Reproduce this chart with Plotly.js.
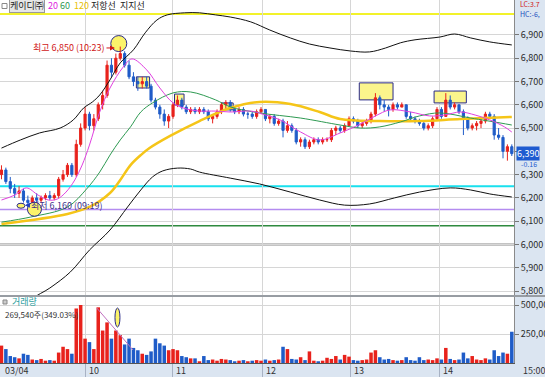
<!DOCTYPE html>
<html><head><meta charset="utf-8">
<script src="https://cdn.plot.ly/plotly-3.0.1.min.js"></script>
<style>html,body{margin:0;padding:0;background:#fff;}#chart{width:545px;height:377px;}</style>
</head><body><div id="chart"></div>
<script>
// ---------- DATA (3-minute bars, 03/04) ----------
const open = [6300,6320,6270,6240,6220,6230,6190,6180,6200,6190,
 6200,6210,6200,6210,6280,6300,6340,6300,6430,6500,
 6560,6510,6540,6600,6640,6770,6740,6800,6820,6770,
 6720,6700,6690,6700,6680,6620,6590,6560,6530,6550,
 6600,6620,6590,6570,6580,6570,6580,6570,6540,6550,
 6570,6600,6610,6580,6570,6580,6560,6560,6550,6570,
 6580,6540,6550,6520,6530,6490,6510,6490,6440,6450,
 6420,6440,6450,6440,6450,6450,6490,6500,6490,6510,
 6540,6530,6510,6520,6530,6560,6630,6600,6590,6580,
 6600,6590,6600,6550,6540,6530,6520,6500,6510,6540,
 6580,6550,6620,6590,6600,6570,6540,6500,6510,6520,
 6530,6560,6550,6470,6460,6400,6420];
const high = [6340,6330,6290,6260,6250,6240,6210,6210,6220,6210,
 6220,6230,6220,6290,6320,6350,6350,6450,6520,6590,
 6570,6560,6610,6660,6790,6800,6820,6850,6830,6790,
 6740,6720,6720,6720,6690,6630,6600,6580,6560,6610,
 6640,6630,6600,6590,6590,6590,6590,6580,6560,6580,
 6610,6620,6620,6590,6590,6590,6570,6570,6580,6590,
 6580,6560,6560,6540,6540,6530,6520,6500,6460,6460,
 6450,6460,6460,6460,6460,6500,6510,6510,6520,6550,
 6550,6540,6530,6540,6570,6650,6640,6620,6600,6610,
 6610,6610,6600,6570,6550,6540,6530,6520,6550,6590,
 6590,6650,6640,6610,6600,6580,6550,6520,6530,6540,
 6570,6570,6560,6500,6470,6430,6430];
const low = [6280,6260,6220,6200,6200,6180,6160,6170,6180,6180,
 6190,6190,6190,6200,6270,6290,6290,6290,6420,6490,
 6490,6490,6530,6580,6630,6720,6730,6790,6760,6710,
 6680,6660,6670,6670,6610,6580,6540,6510,6500,6540,
 6590,6580,6560,6560,6560,6560,6560,6530,6520,6540,
 6560,6580,6570,6560,6560,6550,6540,6540,6540,6560,
 6530,6520,6510,6510,6460,6480,6480,6430,6420,6410,
 6410,6430,6430,6430,6440,6440,6470,6480,6480,6510,
 6520,6500,6500,6510,6520,6550,6580,6570,6550,6570,
 6580,6590,6540,6530,6520,6510,6490,6490,6500,6530,
 6540,6550,6580,6580,6560,6470,6490,6490,6490,6500,
 6520,6540,6450,6450,6370,6360,6380];
const close = [6320,6270,6240,6220,6230,6190,6180,6200,6190,6200,
 6210,6200,6210,6280,6300,6340,6300,6430,6500,6560,
 6510,6540,6600,6640,6770,6740,6800,6820,6770,6720,
 6700,6690,6700,6680,6620,6590,6560,6530,6550,6600,
 6620,6590,6570,6580,6570,6580,6570,6540,6550,6570,
 6600,6610,6580,6570,6580,6560,6560,6550,6570,6580,
 6540,6550,6520,6530,6490,6510,6490,6440,6450,6420,
 6440,6450,6440,6450,6450,6490,6500,6490,6510,6540,
 6530,6510,6520,6530,6560,6630,6600,6590,6580,6600,
 6590,6600,6550,6540,6530,6520,6500,6510,6540,6580,
 6550,6620,6590,6600,6570,6540,6500,6510,6520,6530,
 6560,6550,6470,6460,6400,6420,6390];
const volume = [150000,120000,60000,50000,40000,80000,70000,30000,25000,35000,
 20000,25000,20000,90000,140000,120000,80000,470000,500000,210000,
 180000,120000,480000,280000,350000,210000,280000,240000,160000,210000,
 130000,110000,80000,70000,100000,210000,170000,150000,110000,120000,
 110000,60000,50000,40000,40000,15000,60000,25000,30000,20000,
 35000,30000,25000,15000,20000,25000,15000,20000,25000,20000,
 30000,20000,25000,30000,140000,120000,35000,30000,50000,25000,
 100000,20000,15000,20000,45000,35000,60000,30000,70000,55000,
 25000,20000,25000,30000,90000,110000,50000,30000,35000,25000,
 20000,25000,50000,25000,20000,50000,25000,30000,25000,40000,
 30000,130000,35000,25000,30000,90000,40000,60000,30000,25000,
 40000,30000,110000,60000,90000,80000,269540];

// moving averages (20 / 60 / 120) sampled along the bar-position axis
const ma20Pos = [0,9,17,25,32,38,44,50,55,60,67,74,83,89,99,108,117,124,135,146,156,170,178,190,204,217,231,245,255,265,279,292,302,313,323,333,343,348];
const ma20 = [6191,6212,6243,6212,6191,6195,6225,6277,6341,6427,6569,6672,6762,6797,6750,6672,6608,6586,6573,6573,6569,6573,6560,6535,6483,6449,6479,6518,6552,6578,6569,6552,6556,6569,6556,6535,6505,6483];
const ma60Pos = [0,20,45,58,67,74,81,88,95,103,117,129,146,156,176,204,231,245,258,272,285,299,320,340,348];
const ma60 = [6096,6118,6161,6238,6311,6384,6449,6505,6569,6608,6651,6655,6621,6591,6565,6543,6513,6500,6505,6526,6552,6565,6543,6522,6513];
const ma120Pos = [0,45,60,74,81,88,95,101,115,135,156,176,197,217,231,258,285,313,348];
const ma120 = [6088,6131,6161,6221,6277,6341,6384,6414,6466,6530,6586,6612,6603,6569,6539,6530,6530,6539,6548];

// envelope (black curves)
const upPos = [0,13,26,40,49,56,62,67,74,81,90,98,106,113,125,135,146,156,170,183,197,210,224,238,251,262,272,282,299,309,320,333,348];
const envUpper = [6414,6449,6479,6500,6535,6586,6612,6642,6707,6780,6836,6909,6964,6986,6995,6995,6986,6977,6956,6921,6887,6861,6844,6831,6827,6844,6866,6879,6891,6904,6887,6870,6857];
const lowPos = [0,20,33,47,60,74,86,95,103,110,120,129,135,156,176,197,217,234,251,268,285,306,320,333,348];
const envLower = [5600,5761,5813,5882,5976,6062,6161,6234,6290,6316,6328,6324,6311,6285,6260,6225,6191,6169,6174,6200,6225,6243,6234,6217,6204];

// horizontal levels (resistance / support lines)
const levels = [6990, 6250, 6150, 6080, 6000];
const levelColors = ['#f2f22a', '#19e0ee', '#b48cf0', '#2f8a3f', '#111111'];
const levelWidths = [2, 2, 1.5, 1.5, 1.5];

// highlighted boxes (bar position / price)
const boxStart = [92, 118, 150, 244, 295];
const boxEnd = [101, 124.5, 158, 267, 317];
const boxLow = [6672, 6599, 6578, 6621, 6608];
const boxHigh = [6720, 6646, 6608, 6694, 6659];

// axis ticks (6,400 label sits under the current-price tag)
const priceTicks = [5800,5900,6000,6100,6200,6300,6400,6500,6600,6700,6800,6900];
const priceTickText = ['5,800','5,900','6,000','6,100','6,200','6,300','','6,500','6,600','6,700','6,800','6,900'];
const volTicks = [250000, 500000];
const volTickText = ['250,000', '500,000'];
const timeTickPos = [0, 57, 116.3, 177.7, 237.7, 298.4];
const timeTickText = ['03/04','10','11','12','13','14'];

const stockName = '케이디㈜';
const lastPrice = 6390;

// ---------- LAYOUT ----------
const W=545, H=377, MR=31, MB=14;
const PW = W - MR, PH = H - MB;
const px = v => v / PW;
const py = v => 1 - v / PH;
const UP = '#e8221c', DN = '#1f5cc8';
const FONT = 'Noto Sans CJK KR, Noto Sans, sans-serif';
const pos = open.map((_, i) => i * 3);
const XR = [-1, 349.5];

const traces = [];
traces.push({type:'scatter', mode:'lines', x: upPos, y: envUpper, xaxis:'x', yaxis:'y',
  line:{color:'#111', width:1, shape:'spline', smoothing:1}, hoverinfo:'skip'});
traces.push({type:'scatter', mode:'lines', x: lowPos, y: envLower, xaxis:'x', yaxis:'y',
  line:{color:'#111', width:1, shape:'spline', smoothing:1}, hoverinfo:'skip'});
traces.push({type:'candlestick', x: pos, open, high, low, close, xaxis:'x', yaxis:'y',
  increasing:{line:{color:UP, width:1}, fillcolor:UP},
  decreasing:{line:{color:DN, width:1}, fillcolor:DN},
  whiskerwidth:0, hoverinfo:'skip'});
traces.push({type:'scatter', mode:'lines', x: ma120Pos, y: ma120, xaxis:'x', yaxis:'y',
  line:{color:'#f5c518', width:2.5, shape:'spline', smoothing:1}, hoverinfo:'skip'});
traces.push({type:'scatter', mode:'lines', x: ma60Pos, y: ma60, xaxis:'x', yaxis:'y',
  line:{color:'#2e9a52', width:1, shape:'spline', smoothing:1}, hoverinfo:'skip'});
traces.push({type:'scatter', mode:'lines', x: ma20Pos, y: ma20, xaxis:'x', yaxis:'y',
  line:{color:'#e040e0', width:1, shape:'spline', smoothing:1}, hoverinfo:'skip'});
traces.push({type:'bar', x: pos, y: volume, xaxis:'x2', yaxis:'y2',
  marker:{color: close.map((c, i) => c >= open[i] ? UP : DN), line:{width:0}}, hoverinfo:'skip'});

const shapes = [];
levels.forEach((lv, i) => shapes.push({type:'line', xref:'paper', yref:'y', x0:0, x1:1, y0:lv, y1:lv,
  line:{color:levelColors[i], width:levelWidths[i]}, layer:'between'}));
boxStart.forEach((b, i) => shapes.push({type:'rect', xref:'x', yref:'y', x0:b, x1:boxEnd[i], y0:boxLow[i], y1:boxHigh[i],
  fillcolor:'#fbf58c', line:{color:'#2a2a8a', width:1}, layer:'between'}));
// markers at the high and the low
shapes.push({type:'circle', xref:'x', yref:'y', xsizemode:'pixel', ysizemode:'pixel', xanchor:80, yanchor:6850,
  x0:-8, x1:8, y0:-5, y1:11, fillcolor:'#fbf36a', line:{color:'#2a2a8a', width:1}, layer:'between'});
shapes.push({type:'circle', xref:'x', yref:'y', xsizemode:'pixel', ysizemode:'pixel', xanchor:22.5, yanchor:6160,
  x0:-7, x1:7, y0:-9, y1:5, fillcolor:'#fbf36a', line:{color:'#2a2a8a', width:1}, layer:'above'});
shapes.push({type:'circle', xref:'x', yref:'y', xsizemode:'pixel', ysizemode:'pixel', xanchor:13.3, yanchor:6160,
  x0:-4, x1:4, y0:-1, y1:4, fillcolor:'#fbf36a', line:{color:'#2a2a8a', width:1}, layer:'above'});
// volume trend line and marker
shapes.push({type:'line', xref:'x2', yref:'y2', x0:65, x1:89.7, y0:474000, y1:112000, line:{color:'#c070c0', width:1}});
shapes.push({type:'circle', xref:'x2', yref:'y2', x0:77.4, x1:80.8, y0:310000, y1:474000,
  fillcolor:'#fbf36a', line:{color:'#2a2a8a', width:1}});
// panel divider
shapes.push({type:'line', xref:'paper', yref:'paper', x0:0, x1:W/PW, y0:py(296), y1:py(296), line:{color:'#555', width:1}});
// legend square icons
shapes.push({type:'rect', xref:'paper', yref:'paper', x0:px(2), x1:px(7), y0:py(8.5), y1:py(3.5), line:{color:'#888', width:1}, fillcolor:'#fff'});
shapes.push({type:'rect', xref:'paper', yref:'paper', x0:px(3), x1:px(7), y0:py(304), y1:py(300), line:{color:'#888', width:1}, fillcolor:'#ccc'});

const ann = [];
const txt = (text, x, y, color, size) => ann.push({text, xref:'paper', yref:'paper', x:px(x), y:py(y),
  xanchor:'left', yanchor:'middle', showarrow:false, font:{family:FONT, size:size || 9, color}});
txt(stockName, 9, 6, '#222');
Object.assign(ann[ann.length - 1], {bgcolor:'#e6e6e6', bordercolor:'#999', borderpad:0});
txt('20', 46, 6, '#e020e0');
txt('60', 58, 6, '#2e9a52');
txt('120', 72, 6, '#e8bf00');
txt('저항선', 89, 6, '#222');
txt('지지선', 118, 6, '#222');
txt('LC:3.7', 518, 4, '#d02020', 7);
txt('HC:-6,', 518, 14, '#2050c0', 7);
txt('거래량', 10, 301, '#2a9d9d');
txt('269,540주(349.03%)', 3, 314, '#333', 8);
timeTickPos.forEach((p, i) => ann.push({text: timeTickText[i], xref:'x2', yref:'paper', x:p, y:py(370),
  xanchor:'left', yanchor:'middle', xshift:2, showarrow:false, font:{family:FONT, size:9, color:'#333'}}));
txt('15:00', 521, 370, '#333');
ann.push({text:'최고 6,850 (10:23)', xref:'x', yref:'y', x:77.4, y:6844, ax:-46, ay:0,
  showarrow:true, arrowhead:2, arrowsize:1, arrowwidth:1, arrowcolor:'#d01818',
  font:{family:FONT, size:9, color:'#d01818'}});
ann.push({text:'최저 6,160 (09:19)', xref:'x', yref:'y', x:16, y:6169, ax:42, ay:0,
  showarrow:true, arrowhead:2, arrowsize:1, arrowwidth:1, arrowcolor:'#1f3fbf',
  font:{family:FONT, size:9, color:'#40308a'}});
ann.push({text:'6,390', xref:'paper', yref:'y', x:1 + px(2), y:lastPrice, xanchor:'left', yanchor:'middle',
  showarrow:false, bgcolor:'#1e5bd0', borderpad:0, font:{family:FONT, size:9, color:'#fff'}});
ann.push({text:'-0.16', xref:'paper', yref:'y', x:1 + px(5), y:6345, xanchor:'left', yanchor:'middle',
  showarrow:false, font:{family:FONT, size:7, color:'#1e5bd0'}});

const axFont = {family:FONT, size:9, color:'#2a2a2a'};
const layout = {
  width:W, height:H, margin:{l:0, r:MR, t:0, b:MB},
  paper_bgcolor:'#dbe5f1', plot_bgcolor:'#ffffff', showlegend:false,
  font:{family:FONT, size:9}, bargap:0.2,
  xaxis:{domain:[0,1], range:XR, anchor:'y', tickvals:timeTickPos.slice(1), showticklabels:false, ticks:'',
    showgrid:true, gridcolor:'#d6d6d6', zeroline:false, rangeslider:{visible:false}, fixedrange:true},
  xaxis2:{domain:[0,1], range:XR, anchor:'y2', tickvals:timeTickPos.slice(1), showticklabels:false,
    ticks:'outside', ticklen:14, tickcolor:'#a8b2c4', showgrid:true, gridcolor:'#d6d6d6', zeroline:false,
    showline:true, linecolor:'#555', linewidth:1, rangeslider:{visible:false}},
  yaxis:{domain:[py(295),1], range:[5783,7050], side:'right', tickvals:priceTicks, ticktext:priceTickText,
    ticks:'outside', ticklen:4, tickcolor:'#777', tickfont:axFont, gridcolor:'#d6d6d6', zeroline:false,
    showline:true, linecolor:'#8a8a8a'},
  yaxis2:{domain:[0,py(297)], range:[0,569000], side:'right', tickvals:volTicks, ticktext:volTickText,
    ticks:'outside', ticklen:4, tickcolor:'#777', tickfont:axFont, gridcolor:'#d6d6d6', zeroline:false,
    showline:true, linecolor:'#8a8a8a'},
  shapes, annotations: ann
};
Plotly.newPlot('chart', traces, layout, {displayModeBar:false, staticPlot:true});
</script></body></html>
